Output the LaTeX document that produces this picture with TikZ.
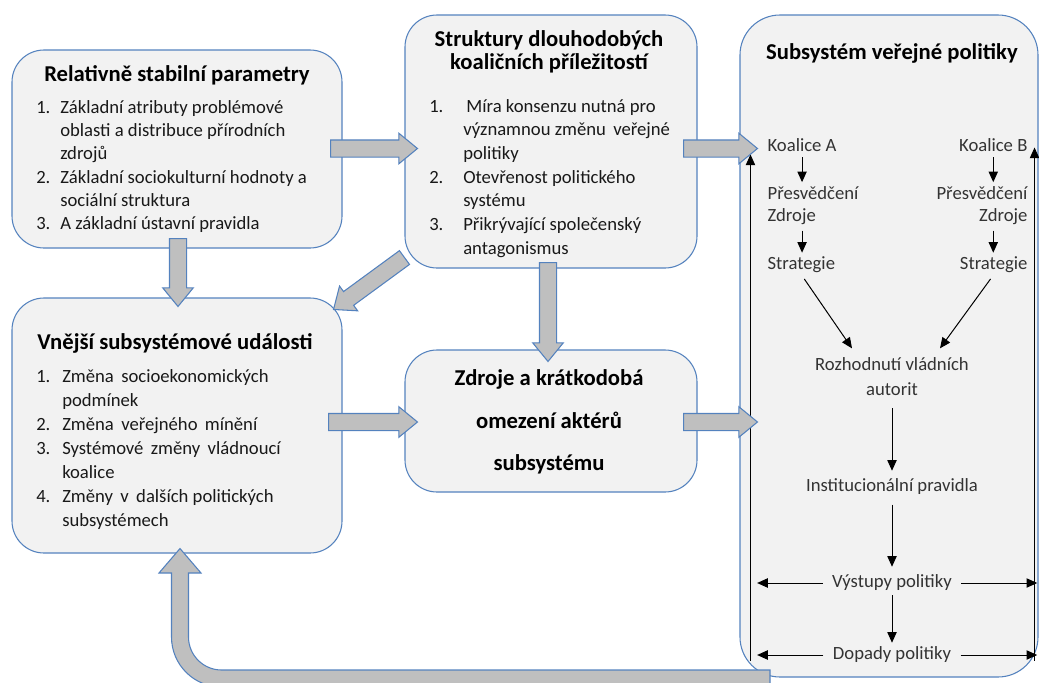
\documentclass[tikz,border=0pt]{standalone}
\usepackage{fontspec}
\setmainfont{Carlito}
\usepackage{tikz}
\definecolor{panelBlue}{RGB}{84,130,190}
\definecolor{panelFill}{RGB}{242,242,242}
\definecolor{arrowGray}{RGB}{191,191,191}
\usetikzlibrary{arrows.meta, positioning, calc}

\tikzset{
  panel/.style={draw=panelBlue, fill=panelFill, line width=0.8pt, rounded corners=24pt},
  fatarrow/.style={draw=panelBlue, fill=arrowGray, line width=0.8pt, line join=miter},
  boxtitle/.style={font=\fontsize{17}{17.5}\selectfont\bfseries, align=center, inner sep=0pt},
  boxlist/.style={inner sep=0pt, text=black!90},
  flowtext/.style={font=\fontsize{14}{18.75}\selectfont, inner sep=1pt, text=black!80},
  flow/.style={-{Triangle[length=8pt,width=7pt]}, line width=0.75pt}
}

\newcommand{\fatarrow}[2]{%
  \coordinate (fa-h) at ($(#2)!14pt!(#1)$);
  \filldraw[fatarrow]
    ($(#1)!6.4pt!90:(#2)$) -- ($(fa-h)!6.4pt!90:(#2)$) -- ($(fa-h)!11.5pt!90:(#2)$) -- (#2)
    -- ($(fa-h)!11.5pt!-90:(#2)$) -- ($(fa-h)!6.4pt!-90:(#2)$) -- ($(#1)!6.4pt!-90:(#2)$) -- cycle;
}

\begin{document}
\begin{tikzpicture}[x=0.75pt, y=-0.75pt]
    \useasboundingbox (0,0) rectangle (1039,682);

    \node[panel, minimum width=247.5pt, minimum height=148.5pt] (rel) at (177,149) {};
    \node[panel, minimum width=219pt, minimum height=189.75pt] (str) at (551,141.5) {};
    \node[panel, minimum width=223.5pt, minimum height=496.5pt, rounded corners=30pt] (sub) at (889,346) {};
    \node[panel, minimum width=247.5pt, minimum height=191.25pt] (ext) at (177,425.5) {};
    \node[panel, minimum width=219pt, minimum height=106.5pt] (res) at (551,421) {};

    \node[boxtitle] (relT) at (177,75) {Relativně stabilní parametry};
    \node[boxlist, anchor=base west, font=\fontsize{14}{17.5}\selectfont] (relL) at (36,113)
      {\begin{tabular}[t]{@{}p{18pt}@{}l@{}}
        1. & Základní atributy problémové\\
           & oblasti a distribuce přírodních\\
           & zdrojů\\
        2. & Základní sociokulturní hodnoty a\\
           & sociální struktura\\
        3. & A základní ústavní pravidla
      \end{tabular}};

    \node[boxtitle] (strT) at (549,52) {Struktury dlouhodobých\\koaličních příležitostí};
    \node[boxlist, anchor=base west, font=\fontsize{14}{17.8}\selectfont] (strL) at (429,112)
      {\begin{tabular}[t]{@{}p{25.5pt}@{}l@{}}
        1. & \,Míra konsenzu nutná pro\\
           & významnou změnu\, veřejné\\
           & politiky\\
        2. & Otevřenost politického\\
           & systému\\
        3. & Přikrývající společenský\\
           & antagonismus
      \end{tabular}};

    \node[boxtitle] (extT) at (175,343) {Vnější subsystémové události};
    \node[boxlist, anchor=base west, font=\fontsize{14}{18}\selectfont] (extL) at (36,382)
      {\begin{tabular}[t]{@{}p{19.5pt}@{}l@{}}
        1. & Změna\, socioekonomických\\
           & podmínek\\
        2. & Změna\, veřejného\, mínění\\
        3. & Systémové\, změny\, vládnoucí\\
           & koalice\\
        4. & Změny\, v\, dalších politických\\
           & subsystémech
      \end{tabular}};

    \node[boxtitle, font=\fontsize{17}{32}\selectfont\bfseries] (resT) at (549,422)
      {Zdroje a krátkodobá\\omezení aktérů\\subsystému};

    \node[boxtitle] (subT) at (892,53) {Subsystém veřejné politiky};

    \node[flowtext, anchor=west] (kA) at (766,145) {Koalice A};
    \node[flowtext, anchor=west] (pA) at (766,193) {Přesvědčení};
    \node[flowtext, anchor=west] (zA) at (766,217) {Zdroje};
    \node[flowtext, anchor=west] (sA) at (766,265) {Strategie};
    \node[flowtext, anchor=east] (kB) at (1029,145) {Koalice B};
    \node[flowtext, anchor=east] (pB) at (1029,193) {Přesvědčení};
    \node[flowtext, anchor=east] (zB) at (1029,217) {Zdroje};
    \node[flowtext, anchor=east] (sB) at (1029,265) {Strategie};
    \node[flowtext, align=center] (roz) at (892,377) {Rozhodnutí vládních\\autorit};
    \node[flowtext] (inst) at (892,487) {Institucionální pravidla};
    \node[flowtext] (vys) at (892,583) {Výstupy politiky};
    \node[flowtext] (dop) at (892,655) {Dopady politiky};

    \coordinate (lbot) at ($(sub.south west)+(11,-17)$);
    \coordinate (ltop) at ($(sub.north west)+(11,140)$);
    \coordinate (rbot) at ($(sub.south east)+(-4,-17)$);
    \coordinate (rtop) at ($(sub.north east)+(-4,133)$);

    \draw[flow, shorten <=3pt, shorten >=2pt] (kA.south) -- (kA.south |- pA.north);
    \draw[flow, shorten <=3pt, shorten >=2pt] (kA.south |- zA.south) -- (kA.south |- sA.north);
    \draw[flow, shorten <=3pt, shorten >=2pt] (kB.south) -- (kB.south |- pB.north);
    \draw[flow, shorten <=3pt, shorten >=2pt] (kB.south |- zB.south) -- (kB.south |- sB.north);
    \draw[flow, shorten <=4pt] (sA.south) -- ($(roz.north)+(-40,-8)$);
    \draw[flow, shorten <=4pt] (sB.south) -- ($(roz.north)+(48,-8)$);
    \draw[flow, shorten <=8pt, shorten >=5pt] (roz.south) -- (inst.north);
    \draw[flow, shorten <=6pt, shorten >=5pt] (inst.south) -- (vys.north);
    \draw[flow, shorten <=2pt, shorten >=2pt] (vys.south) -- (dop.north);
    \draw[flow, shorten <=6pt, shorten >=5pt] (vys.west) -- (vys.west -| lbot);
    \draw[flow, shorten <=6pt, shorten >=-2pt] (vys.east) -- (vys.east -| rbot);
    \draw[flow, shorten <=6pt, shorten >=5pt] (dop.west) -- (dop.west -| lbot);
    \draw[flow, shorten <=6pt, shorten >=-2pt] (dop.east) -- (dop.east -| rbot);
    \draw[flow] (lbot) -- (ltop);
    \draw[flow] (rbot) -- (rtop);

    \coordinate (a1s) at ($(rel.east)+(-12,-0.5)$);
    \coordinate (a1e) at ($(str.west)+(13,7)$);
    \coordinate (a2s) at ($(str.east)+(-14,7)$);
    \coordinate (a2e) at ($(sub.west)+(18,-197.5)$);
    \coordinate (a3s) at ($(rel.south)+(1,-10)$);
    \coordinate (a3e) at ($(ext.north)+(1,9)$);
    \coordinate (a4s) at ($(str.south west)+(0,-11)$);
    \coordinate (a4e) at ($(ext.north east)+(-9,12)$);
    \coordinate (a5s) at ($(str.south)+(-3,-6)$);
    \coordinate (a5e) at ($(res.north)+(-3,12)$);
    \coordinate (a6s) at ($(ext.east)+(-14,-3.5)$);
    \coordinate (a6e) at ($(res.west)+(13,1)$);
    \coordinate (a7s) at ($(res.east)+(-14,1)$);
    \coordinate (a7e) at ($(sub.west)+(18,76)$);
    \fatarrow{a1s}{a1e}
    \fatarrow{a2s}{a2e}
    \fatarrow{a3s}{a3e}
    \fatarrow{a4s}{a4e}
    \fatarrow{a5s}{a5e}
    \fatarrow{a6s}{a6e}
    \fatarrow{a7s}{a7e}

    \coordinate (fbtip) at ($(ext.south)+(3,-5)$);
    \filldraw[fatarrow] (fbtip) -- (201,573) -- (188.5,573) -- (188.5,637)
      .. controls (188.5,655.2) and (203.3,670) .. (221.5,670) -- (770,670) -- (770,687)
      -- (221.5,687) .. controls (193.9,687) and (171.5,664.6) .. (171.5,637)
      -- (171.5,573) -- (159,573) -- cycle;
\end{tikzpicture}
\end{document}
